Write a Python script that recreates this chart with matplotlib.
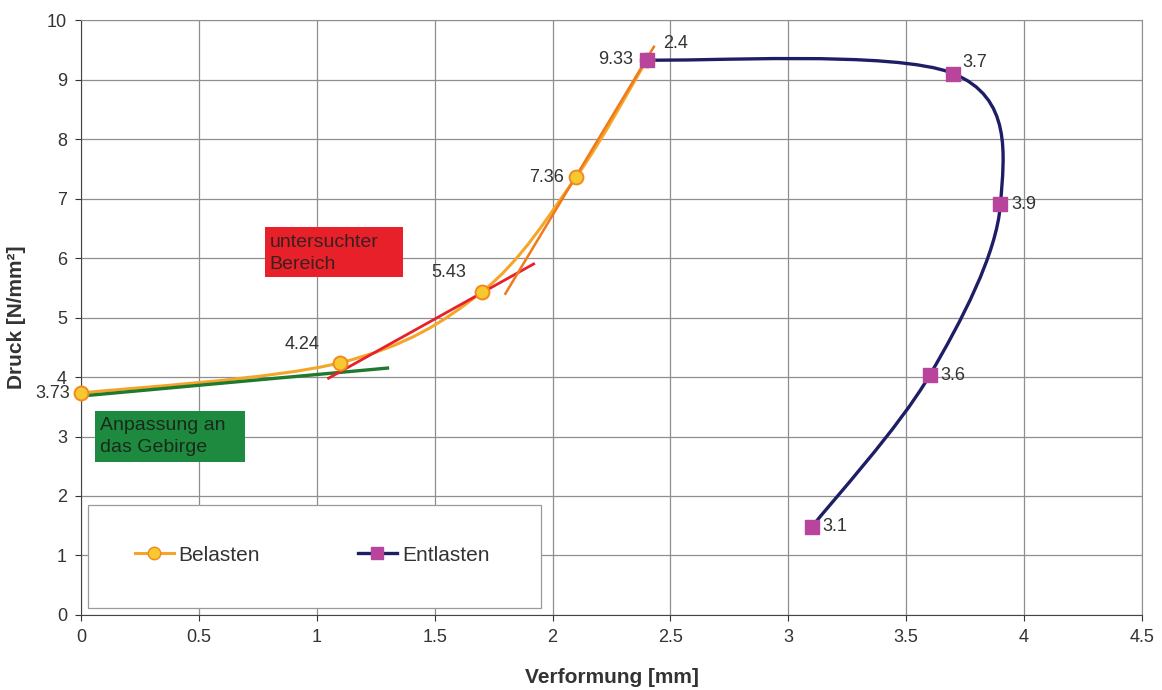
import numpy as np
import matplotlib
import matplotlib.pyplot as plt
from matplotlib.path import Path
from matplotlib.patches import PathPatch, Rectangle
from matplotlib.lines import Line2D

matplotlib.use('Agg')
plt.rcParams['font.family'] = ['Liberation Sans', 'DejaVu Sans']

# Belasten (loading): deformation [mm] vs pressure [N/mm²]
belasten_x = [0.0, 1.1, 1.7, 2.1, 2.4]
belasten_y = [3.73, 4.24, 5.43, 7.36, 9.33]

# Entlasten (unloading)
entlasten_x = [2.4, 3.7, 3.9, 3.6, 3.1]
entlasten_y = [9.33, 9.1, 6.9, 4.03, 1.48]

# hand-drawn tangent lines
green_x, green_y = [0.0, 1.3], [3.68, 4.15]
red_x, red_y = [1.05, 1.92], [3.98, 5.9]
orange_x, orange_y = [1.8, 2.43], [5.4, 9.55]


def smooth_path(xs, ys):
    '''Excel-like smoothed line as cubic bezier path'''
    pts = np.column_stack([xs, ys])
    n = len(pts)
    verts = [pts[0]]
    codes = [Path.MOVETO]
    for i in range(n - 1):
        p0 = pts[max(i - 1, 0)]
        p1 = pts[i]
        p2 = pts[i + 1]
        p3 = pts[min(i + 2, n - 1)]
        verts += [p1 + (p2 - p0) / 6, p2 - (p3 - p1) / 6, p2]
        codes += [Path.CURVE4] * 3
    return Path(verts, codes)


fig = plt.figure(figsize=(11.62, 6.9), dpi=100)
ax = fig.add_axes([0.0697, 0.1087, 0.9130, 0.8623])

ax.set_xlim(0, 4.5)
ax.set_ylim(0, 10)
ax.set_xticks(np.arange(0, 4.51, 0.5))
ax.set_xticklabels(['0', '0.5', '1', '1.5', '2', '2.5', '3', '3.5', '4', '4.5'])
ax.set_yticks(range(0, 11))
ax.grid(True, color='#8f8f8f', linewidth=0.9)
ax.set_axisbelow(True)
for side in ax.spines.values():
    side.set_color('#8f8f8f')
ax.spines['left'].set_color('#444444')
ax.spines['bottom'].set_color('#444444')
ax.tick_params(labelsize=13, colors='#333333', length=4, pad=6)
ax.set_xlabel('Verformung [mm]', fontsize=15, fontweight='bold', color='#333333')
ax.set_ylabel('Druck [N/mm²]', fontsize=15, fontweight='bold', color='#333333')
ax.xaxis.set_label_coords(0.5, -0.089)
ax.yaxis.set_label_coords(-0.052, 0.5)

# curves
ax.add_patch(PathPatch(smooth_path(belasten_x, belasten_y), fill=False,
                       edgecolor='#f5a62a', linewidth=2.2, zorder=4))
ax.add_patch(PathPatch(smooth_path(entlasten_x, entlasten_y), fill=False,
                       edgecolor='#1e1e66', linewidth=2.4, zorder=4))

ax.plot(green_x, green_y, color='#1f7a2e', linewidth=2.4, zorder=5)
ax.plot(red_x, red_y, color='#e8202a', linewidth=2.0, zorder=5)
ax.plot(orange_x, orange_y, color='#f07a1a', linewidth=1.8, zorder=5)

ax.scatter(belasten_x, belasten_y, s=100, marker='o', facecolor='#f8c830',
           edgecolor='#f08a20', linewidth=1.4, zorder=6, clip_on=False)
ax.scatter(entlasten_x, entlasten_y, s=100, marker='s', facecolor='#b8449c',
           edgecolor='#b8449c', zorder=7)

# data labels
lab = dict(fontsize=13, color='#333333', zorder=8)
ax.text(-0.045, belasten_y[0], '3.73', ha='right', va='center', **lab)
ax.text(0.937, 4.55, '4.24', ha='center', va='center', **lab)
ax.text(1.56, 5.75, '5.43', ha='center', va='center', **lab)
ax.text(2.05, belasten_y[3], '7.36', ha='right', va='center', **lab)
ax.text(2.34, belasten_y[4], '9.33', ha='right', va='center', **lab)
ax.text(2.47, 9.61, '2.4', ha='left', va='center', **lab)
ax.text(3.74, 9.28, '3.7', ha='left', va='center', **lab)
for x, y, t in zip(entlasten_x[2:], entlasten_y[2:], ['3.9', '3.6', '3.1']):
    ax.text(x + 0.045, y, t, ha='left', va='center', **lab)

# annotation boxes
ax.add_patch(Rectangle((0.78, 5.68), 0.585, 0.84, facecolor='#e8202a',
                       edgecolor='none', zorder=3))
ax.text(0.8, 6.08, 'untersuchter\nBereich', ha='left', va='center',
        fontsize=14, color='#3a2020', linespacing=1.35, zorder=3)
ax.add_patch(Rectangle((0.059, 2.57), 0.636, 0.86, facecolor='#1e8a40',
                       edgecolor='none', zorder=3))
ax.text(0.08, 3.0, 'Anpassung an\ndas Gebirge', ha='left', va='center',
        fontsize=14, color='#1a2a1a', linespacing=1.4, zorder=3)

# legend with its own frame
ax.add_patch(Rectangle((0.0066, 0.0118), 0.427, 0.173, transform=ax.transAxes,
                       facecolor='white', edgecolor='#9a9a9a', linewidth=0.9, zorder=2))
handles = [
    Line2D([], [], color='#f5a62a', linewidth=2.2, marker='o', markersize=9,
           markerfacecolor='#f8c830', markeredgecolor='#f08a20'),
    Line2D([], [], color='#1e1e66', linewidth=2.4, marker='s', markersize=9,
           markerfacecolor='#b8449c', markeredgecolor='#b8449c'),
]
ax.legend(handles, ['Belasten', 'Entlasten'], ncol=2, frameon=False,
          loc='center left', bbox_to_anchor=(0.0509, 0.1008), fontsize=15,
          borderpad=0, borderaxespad=0, handlelength=1.85, handletextpad=0.25,
          columnspacing=4.7, labelcolor='#333333')

fig.savefig('out.png', dpi=100)
